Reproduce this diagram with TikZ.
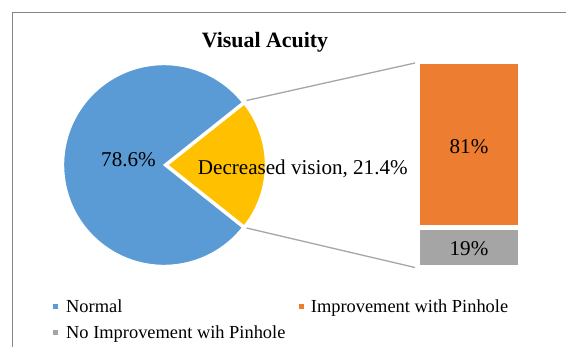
\documentclass[tikz,border=0pt]{standalone}
\usepackage{fontspec}
\setmainfont{Liberation Serif}
\definecolor{pieblue}{HTML}{5B9BD5}
\definecolor{pieyellow}{HTML}{FFC000}
\definecolor{barorange}{HTML}{ED7D31}
\definecolor{bargray}{HTML}{A5A5A5}
\definecolor{framegray}{HTML}{858585}
\definecolor{linkgray}{HTML}{A6A6A6}
\begin{document}
\begin{tikzpicture}[x=1pt,y=-1pt,
  slice/.style={draw=white,line width=1.4pt,line join=miter},
  link/.style={draw=linkgray,line width=1.3pt},
  lbl/.style={font=\fontsize{21.1}{24}\selectfont,anchor=base,inner sep=0pt},
  legtext/.style={font=\fontsize{18.4}{21}\selectfont,anchor=base west,inner sep=0pt},
  legmark/.style={minimum size=5pt,inner sep=0pt,draw=none}]
\clip (0,0) rectangle (566,347);
\fill[white] (0,0) rectangle (566,347);
% chart frame (cut at right and bottom)
\draw[framegray,line width=1pt] (12.5,360) -- (12.5,12.5) -- (580,12.5);
% title
\node[font=\fontsize{21.9}{26}\bfseries\selectfont,anchor=base,inner sep=0pt] (title) at (265,47.5) {Visual Acuity};
% pie
\coordinate (c) at (164,165);
\coordinate (cy) at (167.5,165);
\fill[pieblue,slice] (c) -- ++(38.5:100.5) arc (38.5:321.5:100.5) -- cycle;
\fill[pieyellow,slice] (cy) -- ++(-38.5:98) arc (-38.5:38.5:98) -- cycle;
% bars
\fill[barorange] (419.5,64.5) rectangle (517.5,225.5);
\fill[bargray] (419.5,230) rectangle (517.5,265.5);
\coordinate (barTop) at (415,63);
\coordinate (barBot) at (415,267.5);
\coordinate (pieTop) at (246.5,100.5);
\coordinate (pieBot) at (246.5,228);
\draw[link] (pieTop) -- (barTop);
\draw[link] (pieBot) -- (barBot);
% labels
\node[lbl] (lnormal) at (128.5,167) {78.6\%};
\node[lbl] (ldec) at (302.8,175) {Decreased vision, 21.4\%};
\node[lbl] (l81) at (469,153.3) {81\%};
\node[lbl] (l19) at (469,256) {19\%};
% legend
\node[legmark,fill=pieblue] (m1) at (55.5,306.3) {};
\node[legtext] (t1) at (66,312.3) {Normal};
\node[legmark,fill=barorange] (m2) at (301,306.3) {};
\node[legtext] (t2) at (310.7,312.3) {Improvement with Pinhole};
\node[legmark,fill=bargray] (m3) at (55.5,332.3) {};
\node[legtext] (t3) at (66,338.3) {No Improvement wih Pinhole};
\end{tikzpicture}
\end{document}
